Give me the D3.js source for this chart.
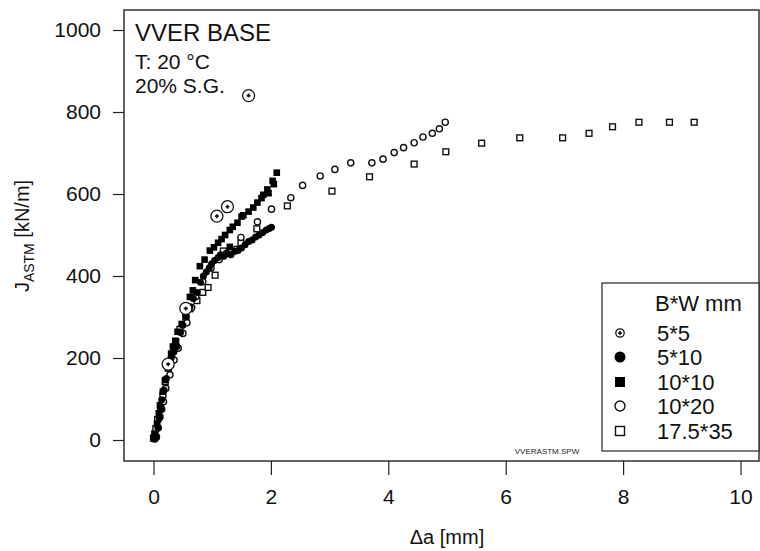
<!DOCTYPE html>
<html><head><meta charset="utf-8">
<script src="https://cdn.jsdelivr.net/npm/d3@7"></script>
<style>body{margin:0;background:#fff}svg{display:block;font-family:"Liberation Sans",Arial,sans-serif}</style>
</head><body><svg id="c" width="760" height="551"></svg>
<script>
const xTicks=[0,2,4,6,8,10];
const yTicks=[0,200,400,600,800,1000];
const seriesNames=["5*5","5*10","10*10","10*20","17.5*35"];
const s5x5=[[0.25,185],[0.55,321],[1.08,546],[1.26,569],[1.62,840]];
const s5x10=[[0.02,2],[0.05,6],[0.08,30],[0.10,53],[0.12,75],[0.14,98],[0.18,122],[0.22,150],[0.26,175],[0.30,200],[0.35,215],[0.40,228],[0.46,262],[0.50,280],[0.56,300],[0.62,325],[0.68,345],[0.74,360],[0.80,385],[0.85,400],[0.90,410],[0.95,420],[0.99,430],[1.04,438],[1.10,445],[1.14,452],[1.20,448],[1.26,455],[1.32,452],[1.38,460],[1.44,462],[1.50,468],[1.56,476],[1.62,484],[1.68,488],[1.74,495],[1.80,500],[1.86,506],[1.92,512],[1.97,516],[2.01,519]];
const s10x10=[[0.01,3],[0.03,15],[0.06,40],[0.09,65],[0.11,85],[0.16,118],[0.20,146],[0.25,180],[0.30,210],[0.33,228],[0.37,242],[0.41,264],[0.48,283],[0.55,310],[0.62,349],[0.67,365],[0.71,390],[0.79,424],[0.87,440],[0.96,462],[1.03,470],[1.10,481],[1.16,490],[1.22,500],[1.30,471],[1.30,512],[1.35,520],[1.43,530],[1.50,545],[1.53,548],[1.62,557],[1.70,567],[1.77,579],[1.84,590],[1.87,598],[1.94,611],[1.96,602],[2.03,632],[2.05,624],[2.10,652]];
const s10x20=[[0.05,8],[0.08,30],[0.11,57],[0.14,75],[0.17,93],[0.21,126],[0.28,159],[0.35,195],[0.42,224],[0.50,260],[0.57,286],[0.65,323],[0.72,350],[0.84,386],[0.98,419],[1.12,440],[1.24,455],[1.41,465],[1.49,494],[1.77,532],[2.01,563],[2.34,591],[2.54,621],[2.84,644],[3.09,660],[3.36,676],[3.72,676],[3.91,685],[4.10,701],[4.26,713],[4.44,725],[4.59,739],[4.75,748],[4.87,759],[4.97,775]];
const s17x35=[[0.00,5],[0.02,15],[0.04,28],[0.07,50],[0.12,77],[0.16,110],[0.20,142],[0.25,175],[0.31,210],[0.38,240],[0.45,270],[0.55,300],[0.62,320],[0.74,340],[0.84,360],[0.93,372],[1.05,402],[1.19,461],[1.49,480],[1.76,515],[2.28,571],[3.04,607],[3.68,642],[4.44,673],[4.98,703],[5.59,724],[6.24,737],[6.97,737],[7.42,748],[7.82,764],[8.27,775],[8.79,775],[9.21,775]];

const svg=d3.select("#c");
const x=d3.scaleLinear().domain([0,10]).range([153.5,740.5]);
const y=d3.scaleLinear().domain([0,1000]).range([440,30]);
const L=124,R=759,T=10,B=461;

svg.append("rect").attr("x",L).attr("y",T).attr("width",R-L).attr("height",B-T)
  .attr("fill","none").attr("stroke","#333").attr("stroke-width",1.5);

const xa=svg.append("g").attr("transform",`translate(0,${B})`)
  .call(d3.axisBottom(x).tickValues(xTicks).tickSize(14).tickPadding(14).tickFormat(d3.format("d")));
const ya=svg.append("g").attr("transform",`translate(${L},0)`)
  .call(d3.axisLeft(y).tickValues(yTicks).tickSize(11).tickPadding(12).tickFormat(d3.format("d")));
[xa,ya].forEach(g=>{g.select(".domain").remove();g.selectAll("line").attr("stroke","#222").attr("stroke-width",1.2);
  g.selectAll("text").attr("font-size",21).attr("fill","#111").attr("font-family","Liberation Sans, Arial, sans-serif");});

svg.append("text").attr("x",447).attr("y",544).attr("text-anchor","middle").attr("font-size",20).attr("fill","#111").text("\u0394a [mm]");
const yt=svg.append("text").attr("transform","translate(29,236) rotate(-90)").attr("text-anchor","middle").attr("font-size",20).attr("fill","#111");
yt.append("tspan").text("J");
yt.append("tspan").attr("font-size",14).attr("dy",5).text("ASTM");
yt.append("tspan").attr("dy",-5).text(" [kN/m]");

svg.append("text").attr("x",135).attr("y",41).attr("font-size",24).attr("fill","#111").text("VVER BASE");
svg.append("text").attr("x",135).attr("y",69).attr("font-size",21).attr("fill","#111").text("T: 20 \u00B0C");
svg.append("text").attr("x",135).attr("y",93).attr("font-size",21).attr("fill","#111").text("20% S.G.");
svg.append("text").attr("x",547).attr("y",454).attr("text-anchor","middle").attr("font-size",8).attr("fill","#222").text("VVERASTM.SPW");

function draw(g,type,cx,cy,s){
  if(type==="cp"){g.append("circle").attr("cx",cx).attr("cy",cy).attr("r",s).attr("fill","#fff").attr("stroke","#111").attr("stroke-width",1.3);
    g.append("path").attr("d",`M${cx-2},${cy}H${cx+2}M${cx},${cy-2}V${cy+2}`).attr("stroke","#111").attr("stroke-width",1.6);}
  else if(type==="fc"){g.append("circle").attr("cx",cx).attr("cy",cy).attr("r",s).attr("fill","#000");}
  else if(type==="fs"){g.append("rect").attr("x",cx-s).attr("y",cy-s).attr("width",2*s).attr("height",2*s).attr("fill","#000");}
  else if(type==="oc"){g.append("circle").attr("cx",cx).attr("cy",cy).attr("r",s).attr("fill","#fff").attr("stroke","#111").attr("stroke-width",1.4);}
  else if(type==="os"){g.append("rect").attr("x",cx-s).attr("y",cy-s).attr("width",2*s).attr("height",2*s).attr("fill","#fff").attr("stroke","#111").attr("stroke-width",1.4);}
}
const series=[
  {data:s17x35,type:"os",s:2.9},
  {data:s10x20,type:"oc",s:3.1},
  {data:s5x10,type:"fc",s:3.5},
  {data:s10x10,type:"fs",s:3.3},
  {data:s5x5,type:"cp",s:6}
];
const pg=svg.append("g");
series.forEach(se=>se.data.forEach(d=>draw(pg,se.type,x(d[0]),y(d[1]),se.s)));

const lg=svg.append("g");
lg.append("rect").attr("x",602).attr("y",283).attr("width",R-602).attr("height",168).attr("fill","#fff").attr("stroke","#222").attr("stroke-width",1.2);
lg.append("text").attr("x",655).attr("y",311).attr("font-size",22).attr("fill","#111").text("B*W mm");
const ltypes=[["cp",4.2],["fc",5.5],["fs",5],["oc",5],["os",4.5]];
const ly=[333,357,382,406,431];
seriesNames.forEach((n,i)=>{
  draw(lg,ltypes[i][0],620,ly[i],ltypes[i][1]);
  lg.append("text").attr("x",657).attr("y",ly[i]+8).attr("font-size",22).attr("fill","#111").text(n);
});
</script></body></html>
